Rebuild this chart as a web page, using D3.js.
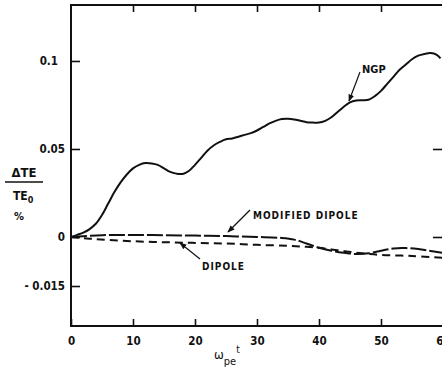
<!DOCTYPE html>
<html>
<head>
<meta charset="utf-8">
<script src="https://cdn.jsdelivr.net/npm/d3@7"></script>
<style>
  body { margin: 0; background: #fff; }
  svg { display: block; }
  text { font-family: "DejaVu Sans Condensed", "Liberation Sans Narrow", sans-serif; fill: #111; }
</style>
</head>
<body>
<svg id="chart" width="442" height="371"></svg>
<script>

// omega_pe * t and Delta TE / TE0 (%)
var ngpT = [0, 1, 2, 3, 4, 5, 6, 7, 8, 9, 10, 11, 12, 13, 14, 15, 16, 17, 18, 19, 20,
	21, 22, 23, 24, 25, 26, 27, 28, 29, 30, 31, 32, 33, 34, 35, 36, 37, 38, 39, 40,
	41, 42, 43, 44, 45, 46, 47, 48, 49, 50, 51, 52, 53, 54, 55, 56, 57, 58, 59, 59.6];
var ngpV = [0, 0.0012, 0.0025, 0.0045, 0.0075, 0.0125, 0.019, 0.0255, 0.031, 0.0355, 0.039,
	0.041, 0.042, 0.0418, 0.041, 0.039, 0.037, 0.036, 0.0358, 0.0375, 0.041,
	0.045, 0.049, 0.052, 0.054, 0.0555, 0.056, 0.057, 0.058, 0.059, 0.0605,
	0.0625, 0.0645, 0.066, 0.067, 0.0672, 0.0668, 0.066, 0.0652, 0.065, 0.065,
	0.066, 0.068, 0.071, 0.074, 0.0765, 0.0775, 0.0777, 0.078, 0.080, 0.083,
	0.087, 0.091, 0.095, 0.098, 0.101, 0.103, 0.104, 0.1045, 0.1035, 0.1015];

var modT = [0, 5, 10, 15, 20, 25, 30, 34, 36, 38, 40, 42, 44, 46, 48, 50, 52, 54, 56, 58, 60];
var modV = [0, 0.001, 0.0012, 0.001, 0.0008, 0.0005, 0, -0.0003, -0.0008, -0.002, -0.0033,
	-0.0042, -0.0048, -0.0052, -0.005, -0.0042, -0.0035, -0.0034, -0.0037, -0.0043, -0.0049];

var dipT = [0, 3, 6, 10, 15, 20, 25, 30, 35, 38, 40, 42, 44, 46, 48, 50, 55, 60];
var dipV = [0, -0.0005, -0.0009, -0.0013, -0.0016, -0.0018, -0.002, -0.0024, -0.0027, -0.003,
	-0.0033, -0.0038, -0.0043, -0.0048, -0.0052, -0.0055, -0.0058, -0.0064];

var xTicks = [0, 10, 20, 30, 40, 50, 60];
var yTicks = [0.1, 0.05, 0, -0.015];

var svg = d3.select('#chart');

var x0 = 71, y0 = 5, x1 = 443, y1 = 326;

var x = d3.scaleLinear().domain([0, 60]).range([x0, x1]);
// the printed axis stretches the negative part
var y = d3.scaleLinear().domain([-0.02724, 0, 0.1318]).range([y1, 237, y0]);

var ink = '#111';

// frame
svg.append('path')
	.attr('d', 'M' + x1 + ',' + y0 + 'H' + x0 + 'V' + y1 + 'H' + x1)
	.attr('fill', 'none')
	.attr('stroke', ink)
	.attr('stroke-width', 2);

// bottom axis, ticks pointing inward
var gx = svg.append('g')
	.attr('transform', 'translate(0,' + y1 + ')')
	.call(d3.axisBottom(x).tickValues(xTicks).tickSize(-7).tickSizeOuter(0).tickPadding(11)
		.tickFormat(d3.format('d')));
gx.select('.domain').remove();
gx.selectAll('line').attr('stroke', ink).attr('stroke-width', 1.6);
gx.selectAll('text').attr('font-size', 11.5).attr('font-weight', 600);

// top axis ticks
var gt = svg.append('g')
	.attr('transform', 'translate(0,' + y0 + ')')
	.call(d3.axisTop(x).tickValues([10, 20, 30, 40, 50]).tickSize(-7).tickSizeOuter(0).tickFormat(''));
gt.select('.domain').remove();
gt.selectAll('line').attr('stroke', ink).attr('stroke-width', 1.6);

// left axis
var gy = svg.append('g')
	.attr('transform', 'translate(' + x0 + ',0)')
	.call(d3.axisLeft(y).tickValues(yTicks).tickSize(-9).tickSizeOuter(0).tickPadding(6)
		.tickFormat(function (d) { return d === 0 ? '0' : (d < 0 ? '- ' + String(-d) : String(d)); }));
gy.select('.domain').remove();
gy.selectAll('line').attr('stroke', ink).attr('stroke-width', 1.6);
gy.selectAll('text').attr('font-size', 11.5).attr('font-weight', 600)
	.attr('dx', function (d) { return d === 0.1 ? -7 : 0; });

// right edge ticks
var gr = svg.append('g')
	.attr('transform', 'translate(' + x1 + ',0)')
	.call(d3.axisRight(y).tickValues([0.05, 0]).tickSize(-10).tickFormat(''));
gr.select('.domain').remove();
gr.selectAll('line').attr('stroke', ink).attr('stroke-width', 1.6);

// curves
var line = d3.line()
	.x(function (d) { return x(d[0]); })
	.y(function (d) { return y(d[1]); })
	.curve(d3.curveCatmullRom.alpha(0.5));

svg.append('path')
	.datum(d3.zip(ngpT, ngpV))
	.attr('d', line)
	.attr('fill', 'none')
	.attr('stroke', ink)
	.attr('stroke-width', 2);

svg.append('path')
	.datum(d3.zip(modT, modV))
	.attr('d', line)
	.attr('fill', 'none')
	.attr('stroke', ink)
	.attr('stroke-width', 2)
	.attr('stroke-dasharray', '16,3');

svg.append('path')
	.datum(d3.zip(dipT, dipV))
	.attr('d', line)
	.attr('fill', 'none')
	.attr('stroke', ink)
	.attr('stroke-width', 2)
	.attr('stroke-dasharray', '8,5');

// arrows
svg.append('defs').append('marker')
	.attr('id', 'head')
	.attr('viewBox', '0 0 10 10')
	.attr('refX', 9)
	.attr('refY', 5)
	.attr('markerWidth', 6)
	.attr('markerHeight', 6)
	.attr('orient', 'auto')
	.append('path')
	.attr('d', 'M0,1L10,5L0,9Z')
	.attr('fill', ink);

var arrows = [
	[360, 72, 349, 101],
	[250, 210, 228, 232],
	[200, 259, 180, 243]
];
svg.selectAll('.arrow')
	.data(arrows)
	.enter()
	.append('line')
	.attr('class', 'arrow')
	.attr('x1', function (d) { return d[0]; })
	.attr('y1', function (d) { return d[1]; })
	.attr('x2', function (d) { return d[2]; })
	.attr('y2', function (d) { return d[3]; })
	.attr('stroke', ink)
	.attr('stroke-width', 1.2)
	.attr('marker-end', 'url(#head)');

svg.append('text').attr('x', 362).attr('y', 73).attr('font-size', 11).attr('font-weight', 'bold')
	.text('NGP');
svg.append('text').attr('x', 253).attr('y', 219).attr('font-size', 10).attr('letter-spacing', 1)
	.attr('font-weight', 'bold').text('MODIFIED  DIPOLE');
svg.append('text').attr('x', 202).attr('y', 270).attr('font-size', 10).attr('letter-spacing', 1)
	.attr('font-weight', 'bold').text('DIPOLE');

// y label
var yl = svg.append('g').attr('font-weight', 'bold');
yl.append('text').attr('x', 24).attr('y', 177).attr('text-anchor', 'middle').attr('font-size', 13).text('ΔTE');
yl.append('line').attr('x1', 5).attr('x2', 43).attr('y1', 182).attr('y2', 182)
	.attr('stroke', ink).attr('stroke-width', 1.6);
var te = yl.append('text').attr('x', 13).attr('y', 200).attr('font-size', 12);
te.append('tspan').text('TE');
te.append('tspan').attr('dy', 3).attr('font-size', 9).text('0');
yl.append('text').attr('x', 19).attr('y', 220).attr('text-anchor', 'middle').attr('font-size', 11).text('%');

// x label
var xl = svg.append('text').attr('x', 214).attr('y', 359).attr('font-size', 13);
xl.append('tspan').text('ω');
xl.append('tspan').attr('dy', 6).attr('font-size', 11).text('pe');
xl.append('tspan').attr('dy', -12).attr('font-size', 10).text('t');

</script>
</body>
</html>
